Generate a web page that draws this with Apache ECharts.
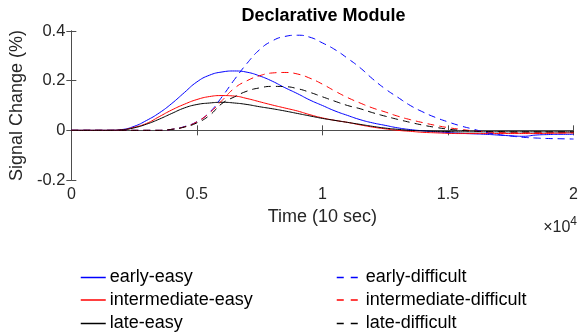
<!DOCTYPE html>
<html><head><meta charset="utf-8">
<script src="https://cdn.jsdelivr.net/npm/echarts@6/dist/echarts.min.js"></script>
<style>html,body{margin:0;padding:0;background:#fff}#c{width:581px;height:336px}</style>
</head><body><div id="c"></div>
<script>
const time = [0,500,1000,1500,2000,2500,3000,3500,4000,4500,5000,5500,6000,6500,7000,7500,8000,8500,9000,9500,10000,10500,11000,11500,12000,12500,13000,13500,14000,14500,15000,15500,16000,16500,17000,17500,18000,18500,19000,19500,20000];
const earlyEasy = [0,0,0,0,0.003,0.016,0.04,0.07,0.108,0.152,0.195,0.222,0.235,0.239,0.234,0.219,0.198,0.172,0.148,0.122,0.1,0.078,0.06,0.043,0.03,0.02,0.01,0.003,-0.002,-0.006,-0.009,-0.012,-0.014,-0.016,-0.019,-0.022,-0.024,-0.019,-0.017,-0.016,-0.016];
const intermediateEasy = [0,0,0,0,0.002,0.012,0.028,0.055,0.082,0.105,0.124,0.136,0.14,0.138,0.128,0.115,0.102,0.09,0.078,0.063,0.05,0.04,0.032,0.022,0.013,0.006,0,-0.004,-0.008,-0.01,-0.012,-0.013,-0.013,-0.013,-0.013,-0.013,-0.013,-0.013,-0.012,-0.011,-0.01];
const lateEasy = [0,0,0,0,0.002,0.01,0.025,0.045,0.068,0.09,0.104,0.11,0.113,0.11,0.104,0.095,0.087,0.078,0.068,0.058,0.048,0.04,0.032,0.024,0.016,0.009,0.004,0,-0.002,-0.004,-0.005,-0.006,-0.006,-0.006,-0.006,-0.006,-0.006,-0.006,-0.006,-0.006,-0.006];
const earlyDifficult = [0,0,0,0,0,0,0,0,0.004,0.015,0.035,0.072,0.135,0.205,0.27,0.325,0.36,0.378,0.383,0.375,0.352,0.325,0.29,0.252,0.207,0.167,0.133,0.1,0.074,0.052,0.034,0.018,0.005,-0.008,-0.017,-0.023,-0.028,-0.031,-0.033,-0.034,-0.035];
const intermediateDifficult = [0,0,0,0,0,0,0,0,0.004,0.014,0.034,0.07,0.12,0.17,0.2,0.22,0.231,0.233,0.227,0.21,0.186,0.158,0.132,0.11,0.09,0.074,0.057,0.043,0.031,0.02,0.011,0.004,-0.002,-0.006,-0.009,-0.01,-0.01,-0.01,-0.01,-0.01,-0.01];
const lateDifficult = [0,0,0,0,0,0,0,0,0.004,0.013,0.03,0.06,0.108,0.135,0.158,0.171,0.177,0.176,0.168,0.153,0.135,0.117,0.1,0.087,0.071,0.057,0.044,0.032,0.021,0.012,0.005,0,-0.003,-0.005,-0.005,-0.006,-0.006,-0.006,-0.006,-0.006,-0.006];
const seriesNames = ['early-easy','intermediate-easy','late-easy','early-difficult','intermediate-difficult','late-difficult'];
const seriesValues = [earlyEasy, intermediateEasy, lateEasy, earlyDifficult, intermediateDifficult, lateDifficult];
const seriesColors = ['#0000ff','#ff0000','#000000','#0000ff','#ff0000','#000000'];
const seriesDashed = [false,false,false,true,true,true];
const xTickValues = [0,5000,10000,15000,20000];
const yTickValues = [-0.2,0,0.2,0.4];

const FONT = 'Liberation Sans, Arial, sans-serif';
const axisColor = '#4d4d4d';
const legendLeft = [80,80,80,336,336,336];
const legendRowCenter = [277.5,300,323.5,277.5,300,323.5];
const chart = echarts.init(document.getElementById('c'));
const series = seriesNames.map((n,i)=>({
  name: n, type: 'line', xAxisIndex: 0, yAxisIndex: 0,
  data: time.map((t,j)=>[t, seriesValues[i][j]]),
  showSymbol: false, symbol: 'none', smooth: 0.5,
  lineStyle: {color: seriesColors[i], width: 1, type: seriesDashed[i] ? [7,5] : 'solid'},
  itemStyle: {color: seriesColors[i]},
  emphasis: {disabled: true}, animation: false
}));
const legends = seriesNames.map((n,i)=>({
  data: [n], orient: 'horizontal', left: legendLeft[i], top: legendRowCenter[i] - 10, padding: 0,
  itemWidth: 25, itemHeight: 14, selectedMode: false, itemGap: 0,
  itemStyle: {opacity: 0},
  lineStyle: {width: 1.5, type: seriesDashed[i] ? [7,7] : 'solid'},
  textStyle: {fontFamily: FONT, fontSize: 18, lineHeight: 20, color: '#000', padding: [0,0,0,-1]}
}));
chart.setOption({
  animation: false,
  backgroundColor: '#fff',
  title: {text: 'Declarative Module', left: 323.5, textAlign: 'center', top: 7, padding: 0,
    textStyle: {fontFamily: FONT, fontWeight: 'bold', fontSize: 18, color: '#000'}},
  grid: {left: 69, right: 3, top: 31, height: 149},
  xAxis: [{
    type: 'value', min: 0, max: 20000, interval: 5000,
    name: 'Time (10 sec)', nameLocation: 'middle', nameGap: 28,
    nameTextStyle: {fontFamily: FONT, fontSize: 18, color: '#262626'},
    axisLine: {show: true, lineStyle: {color: axisColor, width: 1}},
    axisTick: {show: true, inside: true, length: 5, lineStyle: {color: axisColor}},
    axisLabel: {fontFamily: FONT, fontSize: 16, color: '#262626', margin: 7,
      formatter: v => xTickValues.indexOf(v) >= 0 ? String(+(v/10000).toFixed(2)) : ''},
    splitLine: {show: false}
  },{
    type: 'value', min: 0, max: 20000, interval: 5000, position: 'top',
    axisLine: {show: true, lineStyle: {color: axisColor, width: 1}},
    axisTick: {show: true, inside: true, length: 5, lineStyle: {color: axisColor}},
    axisLabel: {show: false}, splitLine: {show: false}
  }],
  yAxis: [{
    type: 'value', min: -0.2, max: 0.4, interval: 0.2,
    name: 'Signal Change (%)', nameLocation: 'middle', nameGap: 32,
    nameTextStyle: {fontFamily: FONT, fontSize: 18, color: '#262626'},
    axisLine: {show: true, lineStyle: {color: axisColor, width: 1}},
    axisTick: {show: true, inside: true, length: 5, lineStyle: {color: axisColor}},
    axisLabel: {fontFamily: FONT, fontSize: 16.5, color: '#262626', margin: 6,
      formatter: v => { const r = +v.toFixed(2); return yTickValues.indexOf(r) >= 0 ? String(r) : ''; }},
    splitLine: {show: false}
  },{
    type: 'value', min: -0.2, max: 0.4, interval: 0.2, position: 'right',
    axisLine: {show: true, lineStyle: {color: axisColor, width: 1}},
    axisTick: {show: true, inside: true, length: 5, lineStyle: {color: axisColor}},
    axisLabel: {show: false}, splitLine: {show: false}
  }],
  legend: legends,
  graphic: [{
    type: 'text', right: 4, top: 216,
    style: {text: '{a|×10}{b|4}', rich: {
      a: {fontFamily: FONT, fontSize: 16, fill: '#262626', verticalAlign: 'bottom', lineHeight: 20},
      b: {fontFamily: FONT, fontSize: 12, fill: '#262626', verticalAlign: 'top', lineHeight: 20, padding: [0,0,8,0]}
    }}
  }],
  series: series
});
</script></body></html>
